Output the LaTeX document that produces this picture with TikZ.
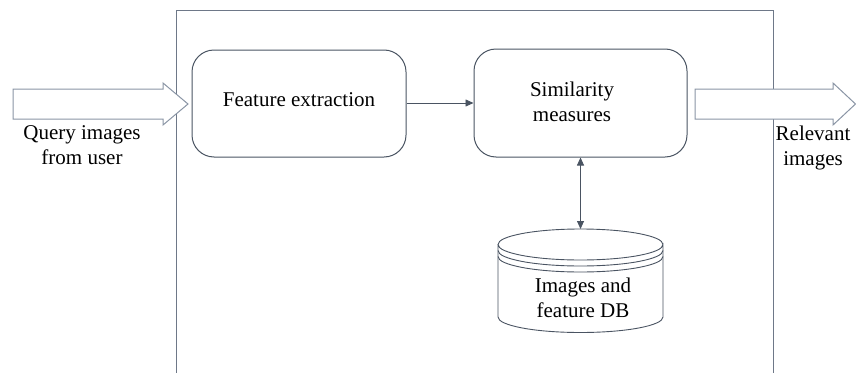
\documentclass[tikz,border=0pt]{standalone}
\usepackage{fontspec}
\setmainfont{LiberationSerif}[Extension=.ttf,UprightFont=*-Regular]
\usetikzlibrary{arrows.meta}
\definecolor{boxline}{HTML}{4A5462}
\definecolor{frameline}{HTML}{6E7888}
\definecolor{arrline}{HTML}{8A95A5}
\begin{document}
\begin{tikzpicture}[x=1pt,y=-1pt,
  proc/.style={draw=boxline,line width=1pt,rounded corners=22pt,align=center,
    font=\fontsize{21}{25.5}\selectfont,inner sep=0pt},
  lbl/.style={align=center,font=\fontsize{21}{25.5}\selectfont,inner sep=0pt},
  conn/.style={draw=boxline,line width=0.8pt,-{Triangle[length=8pt,width=7pt]}},
  blockarr/.style={draw=arrline,line width=1pt,fill=white}]
\useasboundingbox (0,0) rectangle (856,372);
% frame
\draw[frameline,line width=1pt] (176,373) -- (176,10) -- (773,10) -- (773,373);
% block arrows
\draw[blockarr] (13,89) -- (163,89) -- (163,83) -- (188,104) -- (163,125) -- (163,119) -- (13,119) -- cycle;
\draw[blockarr] (695,89) -- (833,89) -- (833,83) -- (855.5,104) -- (833,125) -- (833,119) -- (695,119) -- cycle;
% boxes
\node[proc,minimum width=214pt,minimum height=107pt] (fe) at (299,103.5) {};
\node[lbl] (fet) at (299,100) {Feature extraction};
\node[proc,minimum width=213pt,minimum height=108pt] (sim) at (580.5,103) {};
\node[lbl] (simt) at (572,102) {Similarity\\measures};
% labels
\node[lbl] (q) at (82,145) {Query images\\from user};
\node[lbl] (rel) at (813,148) {Relevant\\images};
% database cylinder
\coordinate (dbtop) at (580.5,229);
\draw[boxline,line width=0.9pt,fill=white] (498,244.5) -- (498,317) arc[start angle=180,end angle=0,x radius=82.5,y radius=15.5] -- (663,244.5) arc[start angle=0,end angle=360,x radius=82.5,y radius=15.5];
\draw[boxline,line width=0.9pt] (498,250.5) arc[start angle=180,end angle=0,x radius=82.5,y radius=15.5];
\draw[boxline,line width=0.9pt] (498,256.5) arc[start angle=180,end angle=0,x radius=82.5,y radius=15.5];
\node[lbl] (db) at (583,298) {Images and\\feature DB};
% connectors
\draw[conn] (fe.east |- 0,103) -- (sim.west |- 0,103);
\draw[draw=boxline,line width=0.8pt,{Triangle[length=8pt,width=7pt]}-{Triangle[length=8pt,width=7pt]}] (sim.south -| dbtop) -- (dbtop);
\end{tikzpicture}
\end{document}
